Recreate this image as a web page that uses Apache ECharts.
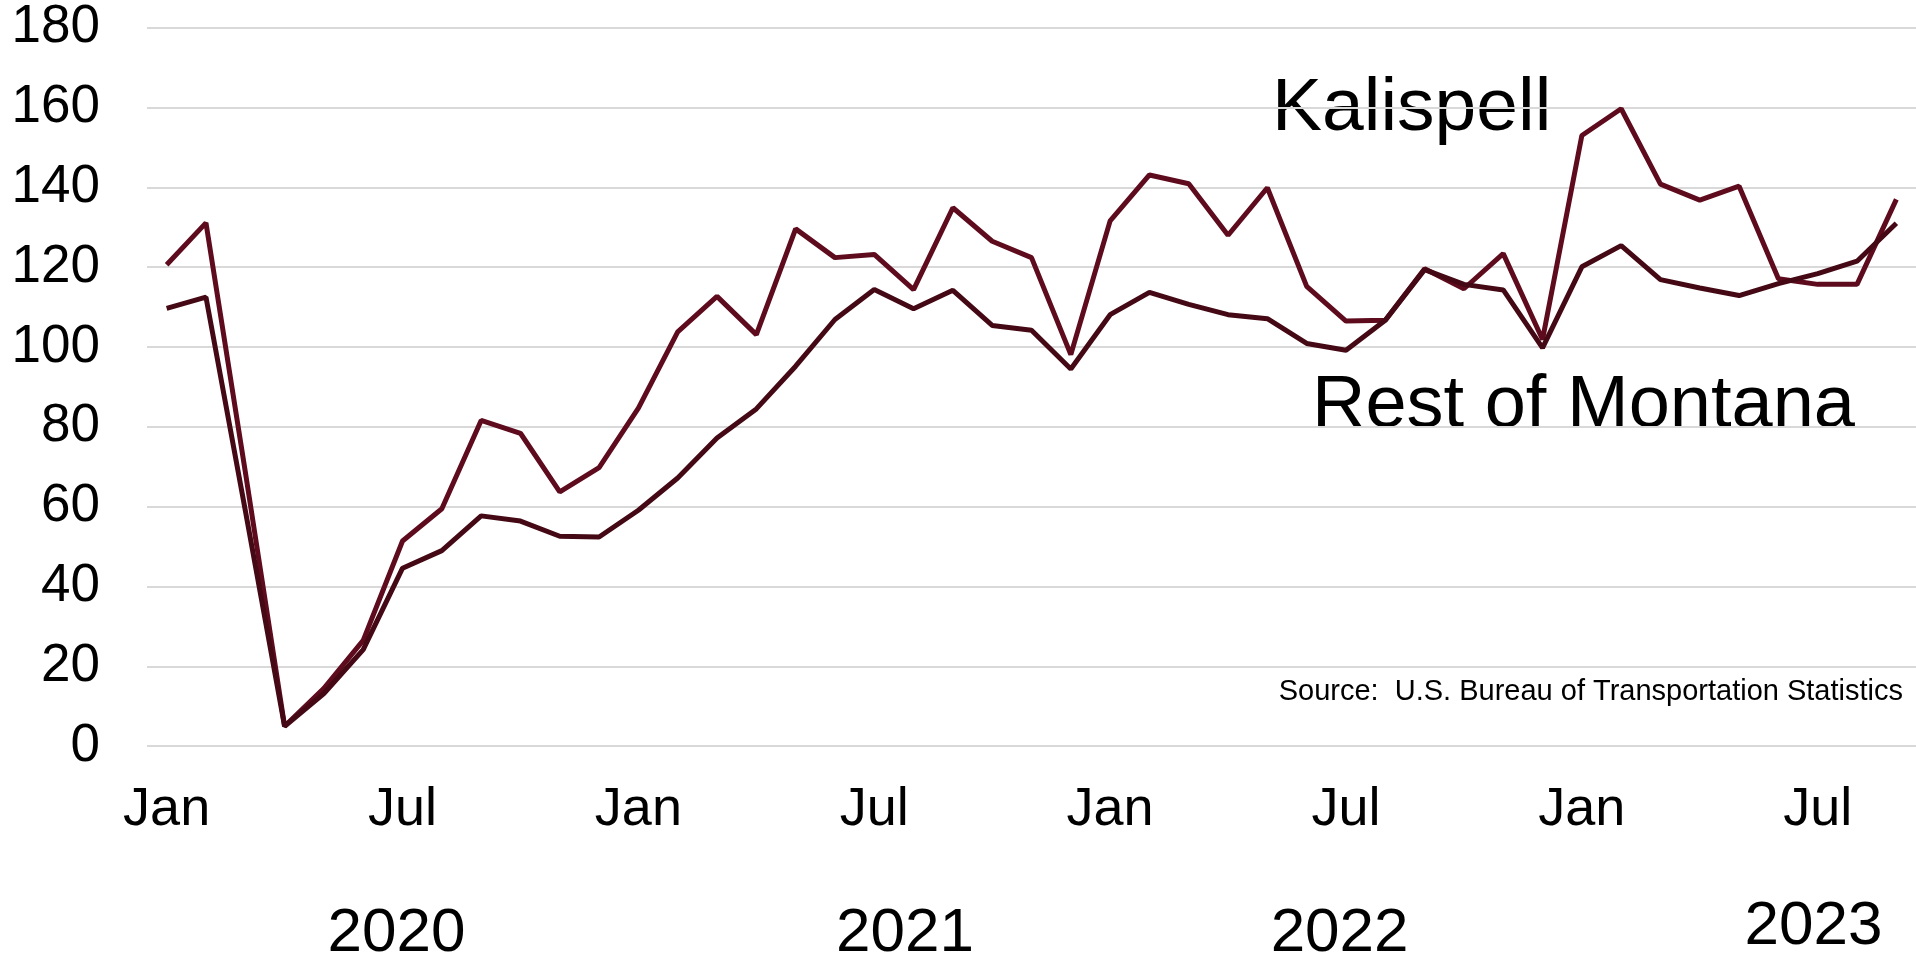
<!DOCTYPE html>
<html>
<head>
<meta charset="utf-8">
<script src="https://cdn.jsdelivr.net/npm/echarts@6/dist/echarts.min.js"></script>
<style>
html,body{margin:0;padding:0;background:#fff;}
#chart{width:1916px;height:963px;}
</style>
</head>
<body>
<div id="chart"></div>
<script>
// Months Jan 2020 .. Sep 2023
const months = ['2020-01','2020-02','2020-03','2020-04','2020-05','2020-06','2020-07','2020-08','2020-09','2020-10','2020-11','2020-12',
  '2021-01','2021-02','2021-03','2021-04','2021-05','2021-06','2021-07','2021-08','2021-09','2021-10','2021-11','2021-12',
  '2022-01','2022-02','2022-03','2022-04','2022-05','2022-06','2022-07','2022-08','2022-09','2022-10','2022-11','2022-12',
  '2023-01','2023-02','2023-03','2023-04','2023-05','2023-06','2023-07','2023-08','2023-09'];
const monthNames = ['Jan','Feb','Mar','Apr','May','Jun','Jul','Aug','Sep','Oct','Nov','Dec'];
const yearLabels = ['2020','2021','2022','2023'];
const yTicks = [0,20,40,60,80,100,120,140,160,180];

const kalispell = [120.6,131.1,68.8,5.0,14.5,26.5,51.4,59.5,81.6,78.4,63.7,69.8,
  84.7,103.8,112.7,103.1,129.6,122.4,123.2,114.4,134.9,126.5,122.4,98.1,
  131.6,143.1,140.9,128.0,139.9,115.2,106.5,106.7,119.6,114.6,123.4,101.9,
  153.0,159.7,140.8,136.8,140.3,117.1,115.7,115.7,137.0];
const restOfMontana = [109.7,112.5,59.1,5.0,13.2,24.2,44.6,49.0,57.7,56.4,52.6,52.4,
  59.1,67.2,77.2,84.5,95.2,106.9,114.4,109.6,114.2,105.4,104.2,94.5,
  108.1,113.7,110.7,108.1,107.1,100.9,99.2,106.7,119.4,115.7,114.3,99.8,
  120.1,125.4,116.9,114.8,112.9,115.9,118.4,121.5,131.0];

const FONT = "'Liberation Sans', Arial, sans-serif";
const chart = echarts.init(document.getElementById('chart'), null, {renderer:'canvas'});
chart.setOption({
  animation: false,
  backgroundColor: '#ffffff',
  grid: {left: 147, right: -6, top: 27.7, bottom: 216.8, containLabel: false},
  xAxis: {
    type: 'category',
    data: months,
    boundaryGap: true,
    axisLine: {show: false},
    axisTick: {show: false},
    splitLine: {show: false},
    axisLabel: {
      interval: function (i) { return i % 6 === 0; },
      formatter: function (v) { return monthNames[parseInt(v.slice(5), 10) - 1]; },
      fontSize: 54, fontFamily: FONT, color: '#000', margin: 37
    }
  },
  yAxis: {
    type: 'value',
    min: yTicks[0], max: yTicks[yTicks.length - 1], interval: 20,
    axisLine: {show: false},
    axisTick: {show: false},
    splitLine: {show: true, lineStyle: {color: '#d9d9d9', width: 2}},
    axisLabel: {fontSize: 53, fontFamily: FONT, color: '#000', margin: 47}
  },
  series: [
    {name: 'Kalispell', type: 'line', data: kalispell, symbol: 'none',
      lineStyle: {color: '#5e0b1e', width: 5}, itemStyle: {color: '#5e0b1e'}},
    {name: 'Rest of Montana', type: 'line', data: restOfMontana, symbol: 'none',
      lineStyle: {color: '#440914', width: 5}, itemStyle: {color: '#440914'}}
  ],
  graphic: [
    {type: 'text', x: 1272, y: 109, style: {text: 'Kalispell', font: '75px ' + FONT, fill: '#000', align: 'left', verticalAlign: 'middle'}},
    {type: 'text', x: 1312, y: 407, style: {text: 'Rest of Montana', font: '74px ' + FONT, fill: '#000', align: 'left', verticalAlign: 'middle'}},
    {type: 'text', x: 1903, y: 692, style: {text: 'Source:  U.S. Bureau of Transportation Statistics', font: '29px ' + FONT, fill: '#000', align: 'right', verticalAlign: 'middle'}},
    {type: 'text', x: 396.5, y: 934, style: {text: yearLabels[0], font: '62px ' + FONT, fill: '#000', align: 'center', verticalAlign: 'middle'}},
    {type: 'text', x: 905, y: 934, style: {text: yearLabels[1], font: '62px ' + FONT, fill: '#000', align: 'center', verticalAlign: 'middle'}},
    {type: 'text', x: 1339.6, y: 934, style: {text: yearLabels[2], font: '62px ' + FONT, fill: '#000', align: 'center', verticalAlign: 'middle'}},
    {type: 'text', x: 1813.5, y: 927, style: {text: yearLabels[3], font: '62px ' + FONT, fill: '#000', align: 'center', verticalAlign: 'middle'}}
  ]
});
</script>
</body>
</html>
